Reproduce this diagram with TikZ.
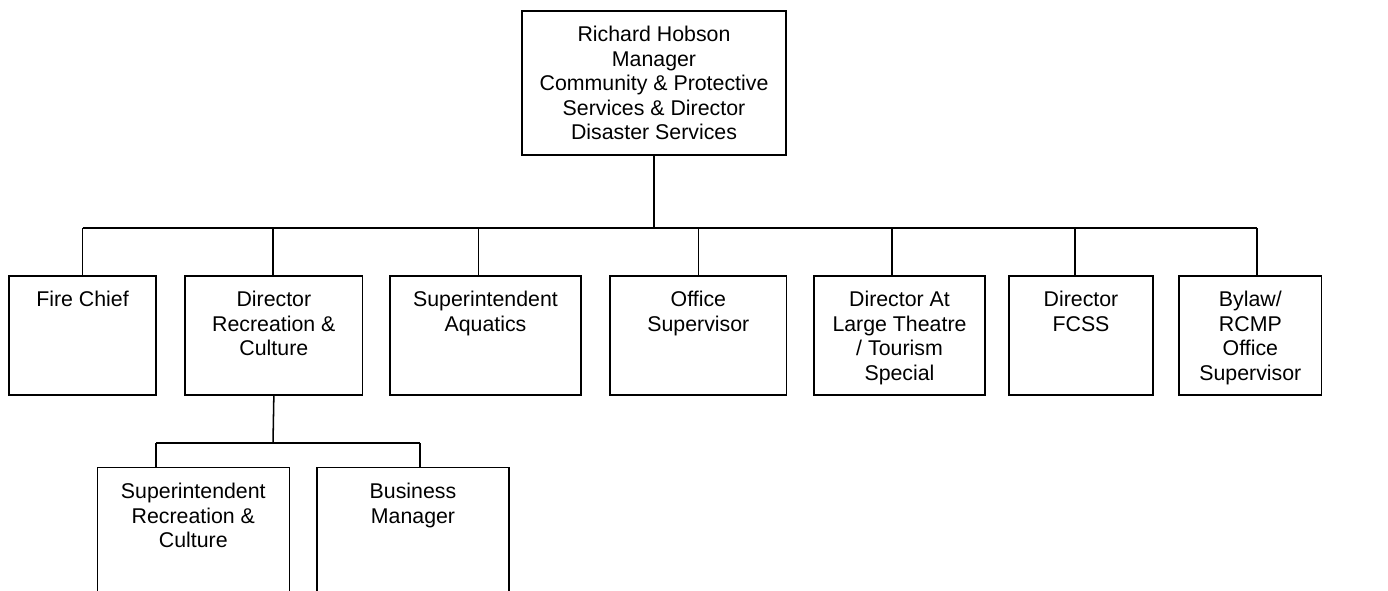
\documentclass[tikz,border=0pt]{standalone}
\usepackage{fontspec}
\setmainfont{Liberation Sans}
\newcommand\orgbox[6]{%
  \node[box, minimum width={(#4-#2)*0.75pt}, minimum height={(#5-#3)*0.75pt}] (#1) at ({(#2+#4)/2},{(#3+#5)/2}) {};
  \node[lab] (#1t) at ([yshift=-12pt]#1.north) {#6};}
\begin{document}
\begin{tikzpicture}[x=0.75pt,y=-0.75pt,
  box/.style={draw, line width=1.15pt, inner sep=0pt},
  lab/.style={anchor=north, align=center, inner sep=0pt, font=\fontsize{16pt}{18.3pt}\selectfont},
  conn/.style={line width=1.15pt}]
\useasboundingbox (0,0) rectangle (1388,590);
\clip (0,0) rectangle (1388,590);
\orgbox{top}{522}{11}{786}{155}{Richard Hobson\\Manager\\Community \& Protective\\Services \& Director\\Disaster Services}
\orgbox{fire}{9}{276}{156}{395}{Fire Chief}
\orgbox{dir}{185}{276}{362.7}{395}{Director\\Recreation \&\\Culture}
\orgbox{aq}{390}{276}{581}{395}{Superintendent\\Aquatics}
\orgbox{off}{610}{276}{786.7}{395}{Office\\Supervisor}
\orgbox{dat}{814}{276}{985}{395}{Director At\\Large Theatre\\/ Tourism\\Special}
\orgbox{fcss}{1009}{276}{1153}{395}{Director\\FCSS}
\orgbox{bylaw}{1179}{276}{1321.7}{395}{Bylaw/\\RCMP\\Office\\Supervisor}
\orgbox{sup}{97.3}{467.7}{289.3}{640}{Superintendent\\Recreation \&\\Culture}
\orgbox{bm}{317}{467.7}{509}{640}{Business\\Manager}
% top bus
\coordinate (bus) at (654,228);
\coordinate (dfire) at (82.7,228);
\coordinate (ddir) at (273,228);
\coordinate (daq) at (478.7,228);
\coordinate (doff) at (698.7,228);
\coordinate (ddat) at (892,228);
\coordinate (dfcss) at (1075,228);
\coordinate (dbylaw) at (1257,228);
\draw[conn] (top.south) -- (bus);
\draw[conn] (dfire) -- (dbylaw);
\foreach \d/\n in {dfire/fire, ddir/dir, daq/aq, doff/off, ddat/dat, dfcss/fcss, dbylaw/bylaw}
  \draw[conn] (\d) -- (\d |- \n.north);
% sub bus
\coordinate (sbus) at (273,443);
\coordinate (dsup) at (156,443);
\coordinate (dbm) at (420,443);
\draw[conn] (dir.south) -- (sbus);
\draw[conn] (dsup) -- (dbm);
\draw[conn] (dsup) -- (dsup |- sup.north);
\draw[conn] (dbm) -- (dbm |- bm.north);
\end{tikzpicture}
\end{document}
